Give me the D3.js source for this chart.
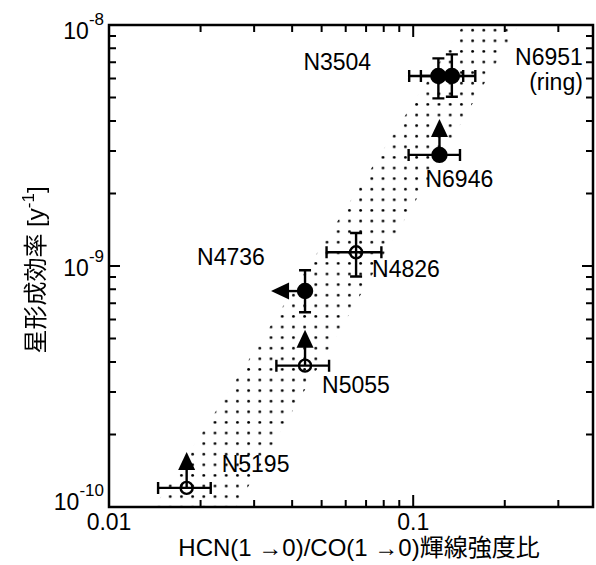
<!DOCTYPE html>
<html>
<head>
<meta charset="utf-8">
<script src="https://cdn.jsdelivr.net/npm/d3@7"></script>
<style>
body { margin: 0; background: #fff; }
text { font-family: "Liberation Sans", Arial, sans-serif; fill: #000; }
.cjk { font-family: "Noto Sans CJK JP", "Noto Sans CJK SC", sans-serif; }
</style>
</head>
<body>
<svg id="chart" width="596" height="565"></svg>
<script>
// galaxies, HCN/CO line ratio (x) and star formation efficiency (y)
var galaxies = ["N3504", "N6951", "N6946", "N4826", "N4736", "N5055", "N5195"];
var ratio    = [0.121, 0.134, 0.122, 0.0649, 0.0441, 0.0441, 0.018];
var ratioLo  = [0.097, 0.106, 0.0966, 0.0519, null, 0.0355, 0.0145];
var ratioHi  = [0.146, 0.160, 0.1425, 0.0786, null, 0.0529, 0.0216];
var sfe      = [6.14e-9, 6.14e-9, 2.89e-9, 1.14e-9, 7.87e-10, 3.86e-10, 1.2e-10];
var sfeLo    = [4.96e-9, 5.04e-9, null, 9.04e-10, 6.43e-10, null, null];
var sfeHi    = [7.27e-9, 7.55e-9, null, 1.37e-9, 9.6e-10, null, null];
var filled   = [true, true, true, false, true, false, false];
var limit    = ["", "", "up", "", "left", "up", "up"];
var subLabel = ["", "(ring)", "", "", "", "", ""];

// dotted band (edges at the bottom and top of the y range)
var bandSfe   = [1e-10, 1e-8];
var bandLeft  = [0.0141, 0.146];
var bandRight = [0.0262, 0.222];

var xTickValues = [0.01, 0.1];
var xTickLabels = ["0.01", "0.1"];
var yTickValues = [1e-10, 1e-9, 1e-8];
var yTickExps   = ["-10", "-9", "-8"];

var xTitle = "HCN(1 \u21920)/CO(1 \u21920)";
var xTitleJa = "輝線強度比";
var yTitleJa = "星形成効率";

// label placement relative to each point (pixels)
var labelDx = [-135, 131, -14, 16, -108, 17, 35];
var labelDy = [-6, -11, 32, 25, -26, 27, -16];
var labelAnchor = ["start", "end", "start", "start", "start", "start", "start"];

var margin = {top: 25, right: 3, bottom: 58, left: 109},
    width = 596 - margin.left - margin.right,
    height = 565 - margin.top - margin.bottom;

var x = d3.scaleLog().domain([0.01, 0.39]).range([0, width]);
var y = d3.scaleLog().domain([1e-10, 1e-8]).range([height, 0]);

var svg = d3.select("#chart");
var defs = svg.append("defs");

var pat = defs.append("pattern")
    .attr("id", "dots")
    .attr("patternUnits", "userSpaceOnUse")
    .attr("width", 11.2)
    .attr("height", 10.6);
pat.append("circle").attr("cx", 5.2).attr("cy", 5.2).attr("r", 1.4).attr("fill", "#000");

defs.append("clipPath").attr("id", "plotclip")
    .append("rect").attr("width", width).attr("height", height);

// no-op filter, renders the rotated title in grey-scale
defs.append("filter").attr("id", "flat")
    .append("feOffset").attr("dx", 0).attr("dy", 0);

var g = svg.append("g").attr("transform", "translate(" + margin.left + "," + margin.top + ")");

// band
var band = [
    [x(bandLeft[0]), y(bandSfe[0])],
    [x(bandLeft[1]), y(bandSfe[1])],
    [x(bandRight[1]), y(bandSfe[1])],
    [x(bandRight[0]), y(bandSfe[0])]
];
g.append("path")
    .attr("clip-path", "url(#plotclip)")
    .attr("d", "M" + band.join("L") + "Z")
    .attr("fill", "url(#dots)");

// frame + ticks
g.append("rect")
    .attr("width", width).attr("height", height)
    .attr("fill", "none").attr("stroke", "#000").attr("stroke-width", 2.5);

function isMajor(v) {
    return Math.abs(Math.log10(v) - Math.round(Math.log10(v))) < 1e-6;
}

var xt = x.ticks().filter(function(d) { return d > 0.01 && d < 0.39; });
var yt = y.ticks().filter(function(d) { return d > 1e-10 && d < 1e-8; });

g.selectAll(".xtick").data(xt).enter().append("path")
    .attr("class", "xtick")
    .attr("d", function(d) {
        var len = isMajor(d) ? 12 : 7, px = x(d);
        return "M" + px + "," + height + "V" + (height - len) + "M" + px + ",0V" + len;
    })
    .attr("stroke", "#000").attr("stroke-width", 2);

g.selectAll(".ytick").data(yt).enter().append("path")
    .attr("class", "ytick")
    .attr("d", function(d) {
        var len = isMajor(d) ? 11 : 7, py = y(d);
        return "M0," + py + "H" + len + "M" + width + "," + py + "H" + (width - len);
    })
    .attr("stroke", "#000").attr("stroke-width", 2);

// tick labels
g.selectAll(".xlab").data(xTickValues).enter().append("text")
    .attr("x", function(d) { return x(d); })
    .attr("y", height + 23)
    .attr("text-anchor", "middle")
    .style("font-size", "23px")
    .text(function(d, i) { return xTickLabels[i]; });

var ylab = g.selectAll(".ylab").data(yTickValues).enter().append("text")
    .attr("x", -5)
    .attr("y", function(d) { return Math.max(14, Math.min(height + 3, y(d) + 10)); })
    .attr("text-anchor", "end")
    .style("font-size", "23px");
ylab.append("tspan").text("10");
ylab.append("tspan")
    .attr("dy", -14)
    .style("font-size", "17px")
    .text(function(d, i) { return yTickExps[i]; });

// axis titles
var xt1 = svg.append("text")
    .attr("x", 359).attr("y", 556)
    .attr("text-anchor", "middle")
    .style("font-size", "24px");
xt1.append("tspan").text(xTitle);
xt1.append("tspan").attr("class", "cjk").text(xTitleJa);

var yt1 = svg.append("g")
    .attr("filter", "url(#flat)")
    .append("text")
    .attr("transform", "translate(44,270) rotate(-90)")
    .attr("text-anchor", "middle")
    .style("font-size", "24px");
yt1.append("tspan").attr("class", "cjk").text(yTitleJa);
yt1.append("tspan").text(" [y");
yt1.append("tspan").attr("dy", -10).style("font-size", "17px").text("-1");
yt1.append("tspan").attr("dy", 10).text("]");

// points
var pts = galaxies.map(function(name, i) {
    return {name: name, x: ratio[i], xlo: ratioLo[i], xhi: ratioHi[i],
            y: sfe[i], ylo: sfeLo[i], yhi: sfeHi[i], filled: filled[i],
            limit: limit[i], sub: subLabel[i], dx: labelDx[i], dy: labelDy[i], anchor: labelAnchor[i]};
});

var cap = 6;
var pg = g.selectAll(".pt").data(pts).enter().append("g").attr("class", "pt");

pg.filter(function(d) { return d.xlo != null; }).append("path")
    .attr("d", function(d) {
        var a = x(d.xlo), b = x(d.xhi), py = y(d.y);
        return "M" + a + "," + py + "H" + b +
            "M" + a + "," + (py - cap) + "V" + (py + cap) +
            "M" + b + "," + (py - cap) + "V" + (py + cap);
    })
    .attr("fill", "none").attr("stroke", "#000").attr("stroke-width", 2.4);

pg.filter(function(d) { return d.ylo != null; }).append("path")
    .attr("d", function(d) {
        var a = y(d.ylo), b = y(d.yhi), px = x(d.x);
        return "M" + px + "," + a + "V" + b +
            "M" + (px - cap) + "," + a + "H" + (px + cap) +
            "M" + (px - cap) + "," + b + "H" + (px + cap);
    })
    .attr("fill", "none").attr("stroke", "#000").attr("stroke-width", 2.4);

// limit arrows
pg.filter(function(d) { return d.limit == "up"; }).append("path")
    .attr("d", function(d) {
        var px = x(d.x), py = y(d.y);
        return "M" + px + "," + py + "V" + (py - 20);
    })
    .attr("stroke", "#000").attr("stroke-width", 2.4);
pg.filter(function(d) { return d.limit == "up"; }).append("path")
    .attr("d", function(d) {
        var px = x(d.x), py = y(d.y);
        return "M" + px + "," + (py - 36) + "L" + (px + 8.5) + "," + (py - 18) + "L" + (px - 8.5) + "," + (py - 18) + "Z";
    })
    .attr("fill", "#000");
pg.filter(function(d) { return d.limit == "left"; }).append("path")
    .attr("d", function(d) {
        var px = x(d.x), py = y(d.y);
        return "M" + px + "," + py + "H" + (px - 18);
    })
    .attr("stroke", "#000").attr("stroke-width", 2.4);
pg.filter(function(d) { return d.limit == "left"; }).append("path")
    .attr("d", function(d) {
        var px = x(d.x), py = y(d.y);
        return "M" + (px - 34) + "," + py + "L" + (px - 16) + "," + (py - 8.5) + "L" + (px - 16) + "," + (py + 8.5) + "Z";
    })
    .attr("fill", "#000");

pg.append("circle")
    .attr("cx", function(d) { return x(d.x); })
    .attr("cy", function(d) { return y(d.y); })
    .attr("r", function(d) { return d.filled ? 7 : 6; })
    .attr("fill", function(d) { return d.filled ? "#000" : "none"; })
    .attr("stroke", "#000").attr("stroke-width", 2.4);

// labels
pg.append("text")
    .attr("x", function(d) { return x(d.x) + d.dx; })
    .attr("y", function(d) { return y(d.y) + d.dy; })
    .attr("text-anchor", function(d) { return d.anchor; })
    .style("font-size", "23px")
    .text(function(d) { return d.name; });
pg.filter(function(d) { return d.sub; }).append("text")
    .attr("x", function(d) { return x(d.x) + d.dx; })
    .attr("y", function(d) { return y(d.y) + d.dy + 25; })
    .attr("text-anchor", "end")
    .style("font-size", "23px")
    .text(function(d) { return d.sub; });
</script>
</body>
</html>
